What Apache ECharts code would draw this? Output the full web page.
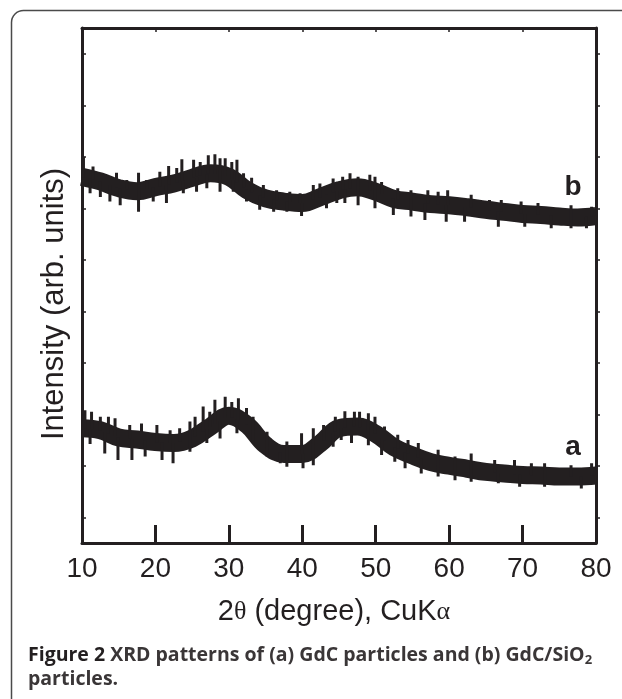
<!DOCTYPE html>
<html>
<head>
<meta charset="utf-8">
<script src="https://cdn.jsdelivr.net/npm/echarts@6/dist/echarts.min.js"></script>
<style>
html,body{margin:0;padding:0;background:#fff;}
#chart{width:622px;height:699px;}
</style>
</head>
<body>
<div id="chart"></div>
<script>
// 2-theta positions (degree) of the read-off curve centres
var twoTheta = [10, 12.5, 15, 17.5, 20, 22.5, 25, 27.5, 30, 32.5, 35, 37.5, 40, 42.5, 45, 47.5, 50, 52.5, 55, 57.5, 60, 62.5, 65, 67.5, 70, 72.5, 75, 77.5, 80];
// (b) GdC/SiO2 centre of the noisy trace (arb. units)
var curveB = [711, 702, 689, 683, 691, 698, 709, 718, 711, 685, 669, 663, 660, 672, 685, 691, 682, 668, 663, 658, 656, 652, 647, 643, 639, 637, 634, 632, 635];
// (a) GdC centre of the noisy trace (arb. units)
var curveA = [223, 219, 205, 201, 196, 194, 203, 226, 247, 229, 190, 173, 173, 194, 223, 226, 212, 186, 170, 157, 150, 144, 138, 135, 132, 131, 129, 129, 131];
// noise spike tips (2-theta, intensity)
var bSpikeX = [10.2, 11.1, 11.5, 12.5, 13.8, 14.7, 15.2, 16.1, 17.7, 17.7, 18.8, 19.7, 20.6, 21.5, 21.8, 22.9, 23.6, 23.8, 25.2, 25.6, 26.1, 27.0, 27.2, 28.1, 28.8, 28.8, 29.5, 30.4, 30.6, 31.1, 32.0, 32.4, 33.1, 34.2, 34.7, 36.1, 36.5, 37.9, 38.3, 39.7, 39.9, 41.5, 42.4, 43.3, 44.2, 44.7, 45.5, 45.8, 46.5, 47.6, 47.6, 49.2, 49.9, 49.9, 50.8, 52.4, 53.0, 54.8, 54.8, 56.7, 57.1, 58.5, 59.6, 59.8, 62.1, 63.0, 65.5, 66.7, 67.1, 69.8, 70.3, 72.1, 73.9, 76.6, 76.6, 78.7, 79.4];
var bSpikeY = [750, 679, 731, 672, 663, 719, 656, 705, 719, 643, 705, 663, 721, 660, 732, 728, 745, 679, 744, 682, 740, 689, 753, 755, 747, 682, 747, 740, 682, 744, 718, 663, 709, 647, 695, 643, 685, 643, 682, 679, 635, 695, 698, 650, 708, 660, 711, 660, 718, 656, 711, 715, 711, 650, 701, 637, 689, 685, 634, 627, 685, 682, 624, 685, 624, 676, 666, 614, 666, 663, 614, 660, 611, 656, 611, 611, 653];
var aSpikeX = [10.4, 11.1, 11.3, 12.5, 13.1, 13.6, 14.5, 14.9, 16.5, 16.8, 18.1, 18.6, 20.2, 20.9, 22.0, 22.4, 23.3, 24.7, 24.7, 25.4, 26.5, 27.0, 27.4, 28.1, 28.8, 29.5, 30.4, 31.1, 31.3, 32.4, 33.3, 33.3, 35.2, 35.2, 37.0, 37.9, 37.9, 39.9, 40.1, 41.5, 41.5, 42.9, 44.2, 44.5, 45.3, 45.8, 46.7, 47.1, 47.8, 49.0, 49.0, 49.9, 50.8, 51.2, 52.6, 53.0, 54.0, 54.4, 55.8, 56.2, 58.5, 58.5, 60.8, 60.8, 63.0, 63.0, 66.2, 66.7, 68.9, 69.6, 71.2, 73.0, 73.0, 76.6, 78.0, 79.4];
var aSpikeY = [258, 192, 255, 245, 174, 245, 242, 161, 229, 161, 232, 168, 229, 161, 219, 155, 223, 236, 177, 245, 265, 194, 255, 278, 203, 284, 274, 213, 281, 262, 245, 194, 168, 216, 155, 148, 197, 213, 145, 223, 151, 229, 187, 245, 200, 256, 194, 255, 255, 252, 190, 245, 171, 226, 158, 210, 145, 200, 194, 135, 129, 181, 168, 122, 174, 119, 161, 116, 161, 109, 155, 155, 109, 151, 106, 155];
// axis ticks
var xTicks = [10, 20, 30, 40, 50, 60, 70, 80];
var yTicks = [50, 150, 250, 350, 450, 550, 650, 750, 850, 950];

var INK = '#231f20';

function centreAt(xs, ys, x) {
  for (var i = 0; i < xs.length - 1; i++) {
    if (x >= xs[i] && x <= xs[i + 1]) {
      var t = (x - xs[i]) / (xs[i + 1] - xs[i]);
      return ys[i] + t * (ys[i + 1] - ys[i]);
    }
  }
  return ys[ys.length - 1];
}
function pairs(xs, ys) { return xs.map(function (x, i) { return [x, ys[i]]; }); }
function spikes(sx, sy, cy) {
  var out = [];
  sx.forEach(function (x, i) {
    out.push([x, centreAt(twoTheta, cy, x)]);
    out.push([x, sy[i]]);
    out.push('-');
  });
  return out;
}

var chart = echarts.init(document.getElementById('chart'), null, {renderer: 'canvas'});
var option = {
  backgroundColor: '#fff',
  animation: false,
  grid: {left: 82, top: 28, right: 26, bottom: 156, containLabel: false},
  xAxis: [{
    type: 'value', min: 10, max: 80, interval: 10, position: 'bottom',
    axisLine: {show: true, onZero: false, lineStyle: {color: INK, width: 3}},
    axisTick: {show: true, inside: true, length: 18, lineStyle: {color: INK, width: 3}, customValues: xTicks},
    axisLabel: {show: true, margin: 12, color: INK, fontSize: 28, fontFamily: 'Liberation Sans, Arial, sans-serif', customValues: xTicks},
    splitLine: {show: false}
  }, {
    type: 'value', min: 10, max: 80, interval: 10, position: 'top',
    axisLine: {show: true, onZero: false, lineStyle: {color: INK, width: 3}},
    axisTick: {show: true, inside: true, length: 4, lineStyle: {color: INK, width: 1.5}},
    axisLabel: {show: false}, splitLine: {show: false}
  }],
  yAxis: [{
    type: 'value', min: 0, max: 1000, position: 'left',
    axisLine: {show: true, onZero: false, lineStyle: {color: INK, width: 3}},
    axisTick: {show: true, inside: true, length: 4, lineStyle: {color: INK, width: 1.5}, customValues: yTicks},
    axisLabel: {show: false}, splitLine: {show: false}
  }, {
    type: 'value', min: 0, max: 1000, position: 'right',
    axisLine: {show: true, onZero: false, lineStyle: {color: INK, width: 3}},
    axisTick: {show: true, inside: false, length: 4, lineStyle: {color: INK, width: 1.5}, customValues: yTicks},
    axisLabel: {show: false}, splitLine: {show: false}
  }],
  series: [
    {type: 'line', name: 'b', data: pairs(twoTheta, curveB), smooth: 0.4, showSymbol: false, clip: true,
     lineStyle: {color: INK, width: 18, cap: 'butt', join: 'round'}, itemStyle: {color: INK}},
    {type: 'line', name: 'a', data: pairs(twoTheta, curveA), smooth: 0.4, showSymbol: false, clip: true,
     lineStyle: {color: INK, width: 18, cap: 'butt', join: 'round'}, itemStyle: {color: INK}},
    {type: 'line', name: 'b-noise', data: spikes(bSpikeX, bSpikeY, curveB), connectNulls: false, showSymbol: false, clip: true,
     lineStyle: {color: INK, width: 3}, itemStyle: {color: INK}},
    {type: 'line', name: 'a-noise', data: spikes(aSpikeX, aSpikeY, curveA), connectNulls: false, showSymbol: false, clip: true,
     lineStyle: {color: INK, width: 3}, itemStyle: {color: INK}}
  ],
  graphic: [
    {type: 'rect', z: -1, shape: {x: 11.5, y: 10.5, width: 660, height: 760, r: 12}, style: {fill: 'none', stroke: '#4a4a4a', lineWidth: 1.5}},
    {type: 'text', x: 573, y: 187, style: {text: 'b', fill: INK, font: 'bold 28px "Liberation Sans", Arial, sans-serif', textAlign: 'center', textVerticalAlign: 'middle'}},
    {type: 'text', x: 573, y: 447, style: {text: 'a', fill: INK, font: 'bold 28px "Liberation Sans", Arial, sans-serif', textAlign: 'center', textVerticalAlign: 'middle'}},
    {type: 'text', x: 54, y: 304, rotation: Math.PI / 2,
     style: {text: 'Intensity (arb. units)', fill: INK, font: '31px "Liberation Sans", Arial, sans-serif', textAlign: 'center', textVerticalAlign: 'middle'}},
    {type: 'text', x: 334, y: 612,
     style: {
       text: '{n|2}{g|θ}{n| (degree), CuK}{g|α}',
       textAlign: 'center', textVerticalAlign: 'middle',
       rich: {
         n: {fontFamily: 'Liberation Sans, Arial, sans-serif', fontSize: 29, fill: INK, color: INK},
         g: {fontFamily: 'Liberation Serif, serif', fontSize: 26, fill: INK, color: INK}
       }
     }},
    {type: 'text', x: 28, y: 655,
     style: {
       text: '{fb|Figure 2 }{f|XRD patterns of (a) GdC particles and (b) GdC/SiO}{s|2}',
       textAlign: 'left', textVerticalAlign: 'middle',
       rich: {
         fb: {fontFamily: 'Open Sans, sans-serif', fontWeight: 'bold', fontSize: 19.5, fill: INK, color: INK},
         f: {fontFamily: 'Open Sans, sans-serif', fontWeight: 'bold', fontSize: 19.5, fill: '#3a3637', color: '#3a3637'},
         s: {fontFamily: 'Open Sans, sans-serif', fontWeight: 'bold', fontSize: 13, fill: '#3a3637', color: '#3a3637', padding: [10, 0, 0, 0]}
       }
     }},
    {type: 'text', x: 28, y: 679,
     style: {text: 'particles.', fill: '#3a3637', font: 'bold 19.5px "Open Sans", sans-serif', textAlign: 'left', textVerticalAlign: 'middle'}}
  ]
};
chart.setOption(option);
</script>
</body>
</html>
